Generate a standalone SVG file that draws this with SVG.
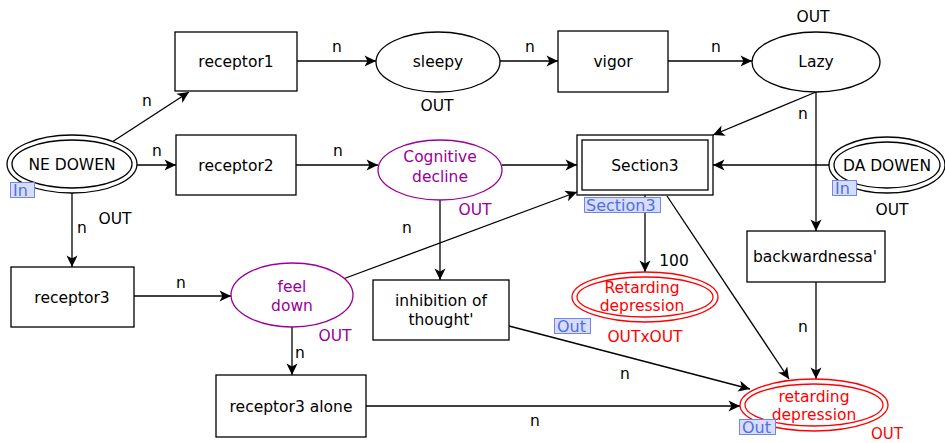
<svg xmlns="http://www.w3.org/2000/svg" width="945" height="443" viewBox="0 0 945 443">
  <style>
    text { font-family: "DejaVu Sans", Verdana, sans-serif; font-size: 15.5px; text-anchor: middle; }
    .box { fill: #fff; stroke: #000; stroke-width: 1.3; }
    .pl { fill: #fff; stroke: #000; stroke-width: 1.3; }
    .pl-purple { fill: #fff; stroke: #990099; stroke-width: 1.3; }
    .pl-red { fill: none; stroke: #ff0000; stroke-width: 1.3; }
    .purple { fill: #990099; }
    .red { fill: #ff0000; }
    .tag { fill: #d6ddff; stroke: #6f86e6; stroke-width: 1; }
    .tagtext { fill: #5470d8; font-size: 16px; text-anchor: start; }
    .edge { fill: none; stroke: #000; stroke-width: 1.3; }
    .edge-arrow { marker-end: url(#arrow); }
  </style>
  <defs>
    <marker id="arrow" viewBox="-12 -6 12 12" markerWidth="12" markerHeight="12" refX="0" refY="0" orient="auto" markerUnits="userSpaceOnUse">
      <path d="M -11.5 -5.5 L 0 0 L -11.5 5.5 L -8.5 0 Z" fill="#000"/>
    </marker>
  </defs>

  <rect width="945" height="443" fill="#fff"/>

  <!-- connectors -->
  <g id="connectors">
    <line class="edge edge-arrow" x1="297" y1="61" x2="376" y2="61"/>
    <text x="337" y="52">n</text>
    <line class="edge edge-arrow" x1="500" y1="61" x2="558" y2="61"/>
    <text x="530" y="52">n</text>
    <line class="edge edge-arrow" x1="668" y1="61" x2="752" y2="61"/>
    <text x="716" y="52">n</text>

    <line class="edge edge-arrow" x1="112" y1="142" x2="189" y2="92"/>
    <text x="147" y="106">n</text>
    <line class="edge edge-arrow" x1="137" y1="165" x2="176" y2="165"/>
    <text x="157" y="156">n</text>
    <line class="edge edge-arrow" x1="296" y1="165" x2="378" y2="165"/>
    <text x="338" y="156">n</text>
    <line class="edge edge-arrow" x1="502" y1="165" x2="577" y2="165"/>

    <line class="edge edge-arrow" x1="816" y1="92" x2="713" y2="135"/>
    <line class="edge edge-arrow" x1="816" y1="92" x2="816" y2="231"/>
    <text x="803" y="119">n</text>
    <line class="edge edge-arrow" x1="830" y1="165" x2="713" y2="165"/>

    <line class="edge edge-arrow" x1="72" y1="193" x2="72" y2="267"/>
    <text x="82" y="233">n</text>
    <line class="edge edge-arrow" x1="134" y1="296" x2="231" y2="296"/>
    <text x="181" y="288">n</text>
    <line class="edge edge-arrow" x1="343" y1="279" x2="577" y2="192"/>
    <text x="407" y="233">n</text>

    <line class="edge edge-arrow" x1="440" y1="200" x2="440" y2="280"/>

    <line class="edge edge-arrow" x1="645" y1="195" x2="645" y2="272"/>
    <text x="674" y="266">100</text>
    <line class="edge edge-arrow" x1="667" y1="196" x2="789" y2="379"/>
    <line class="edge edge-arrow" x1="816" y1="282" x2="816" y2="379"/>
    <text x="803" y="332">n</text>
    <line class="edge edge-arrow" x1="509" y1="326" x2="750" y2="389"/>
    <text x="625" y="379">n</text>

    <line class="edge edge-arrow" x1="292" y1="327" x2="292" y2="375"/>
    <text x="300" y="358">n</text>
    <line class="edge edge-arrow" x1="366" y1="406" x2="740" y2="406"/>
    <text x="535" y="426">n</text>
  </g>

  <!-- nodes -->
  <g id="receptor1">
    <rect class="box" x="175" y="32" width="122" height="59"/>
    <text x="236" y="67">receptor1</text>
  </g>
  <g id="sleepy">
    <ellipse class="pl" cx="438" cy="62" rx="62" ry="30"/>
    <text x="438" y="67">sleepy</text>
    <text x="437" y="111">OUT</text>
  </g>
  <g id="vigor">
    <rect class="box" x="558" y="31" width="110" height="61"/>
    <text x="613" y="67">vigor</text>
  </g>
  <g id="Lazy">
    <ellipse class="pl" cx="816" cy="62" rx="64" ry="30"/>
    <text x="816" y="67">Lazy</text>
    <text x="813" y="22">OUT</text>
  </g>
  <g id="NE_DOWEN">
    <ellipse class="pl" cx="72" cy="164" rx="65" ry="29"/>
    <ellipse class="pl" cx="72" cy="164" rx="60" ry="24"/>
    <text x="72" y="170">NE DOWEN</text>
    <rect class="tag" x="10.5" y="182.5" width="24" height="15"/>
    <text class="tagtext" x="13" y="196">In</text>
    <text x="115" y="224">OUT</text>
  </g>
  <g id="receptor2">
    <rect class="box" x="176" y="135" width="120" height="60"/>
    <text x="236" y="171">receptor2</text>
  </g>
  <g id="Cognitive_decline">
    <ellipse class="pl-purple" cx="440" cy="170" rx="62" ry="30"/>
    <text class="purple" x="440" y="162">Cognitive</text>
    <text class="purple" x="440" y="182">decline</text>
    <text class="purple" x="475" y="215">OUT</text>
  </g>
  <g id="Section3">
    <rect class="box" x="577" y="135" width="136" height="60"/>
    <rect class="box" x="582" y="140" width="126" height="50"/>
    <text x="645" y="171">Section3</text>
    <rect class="tag" x="584.5" y="197.5" width="76" height="15"/>
    <text class="tagtext" x="586" y="211">Section3</text>
  </g>
  <g id="DA_DOWEN">
    <ellipse class="pl" cx="887" cy="165" rx="58" ry="28"/>
    <ellipse class="pl" cx="887" cy="165" rx="53" ry="23"/>
    <text x="887" y="171">DA DOWEN</text>
    <rect class="tag" x="832.5" y="180.5" width="24" height="15"/>
    <text class="tagtext" x="835" y="194">In</text>
    <text x="892" y="215">OUT</text>
  </g>
  <g id="receptor3">
    <rect class="box" x="11" y="267" width="123" height="60"/>
    <text x="72" y="303">receptor3</text>
  </g>
  <g id="feel_down">
    <ellipse class="pl-purple" cx="292" cy="295" rx="61" ry="32"/>
    <text class="purple" x="292" y="292">feel</text>
    <text class="purple" x="292" y="311">down</text>
    <text class="purple" x="335" y="341">OUT</text>
  </g>
  <g id="inhibition_of_thought">
    <rect class="box" x="373" y="280" width="136" height="60"/>
    <text x="441" y="306">inhibition of</text>
    <text x="441" y="325">thought'</text>
  </g>
  <g id="backwardnessa">
    <rect class="box" x="747" y="231" width="138" height="51"/>
    <text x="815" y="262">backwardnessa'</text>
  </g>
  <g id="Retarding_depression">
    <ellipse class="pl-red" cx="645" cy="297" rx="73" ry="25"/>
    <ellipse class="pl-red" cx="645" cy="297" rx="68" ry="20"/>
    <text class="red" x="642" y="293">Retarding</text>
    <text class="red" x="642" y="311">depression</text>
    <rect class="tag" x="554.5" y="318.5" width="36" height="15"/>
    <text class="tagtext" x="557" y="332">Out</text>
    <text class="red" x="645" y="342">OUTxOUT</text>
  </g>
  <g id="receptor3_alone">
    <rect class="box" x="216" y="375" width="150" height="62"/>
    <text x="291" y="412">receptor3 alone</text>
  </g>
  <g id="retarding_depression">
    <ellipse class="pl-red" cx="814" cy="405" rx="74" ry="26"/>
    <ellipse class="pl-red" cx="814" cy="405" rx="69" ry="21"/>
    <text class="red" x="814" y="402">retarding</text>
    <text class="red" x="814" y="420">depression</text>
    <rect class="tag" x="739.5" y="419.5" width="36" height="15"/>
    <text class="tagtext" x="742" y="433">Out</text>
    <text class="red" x="887" y="439" style="font-size:15px">OUT</text>
  </g>
</svg>
